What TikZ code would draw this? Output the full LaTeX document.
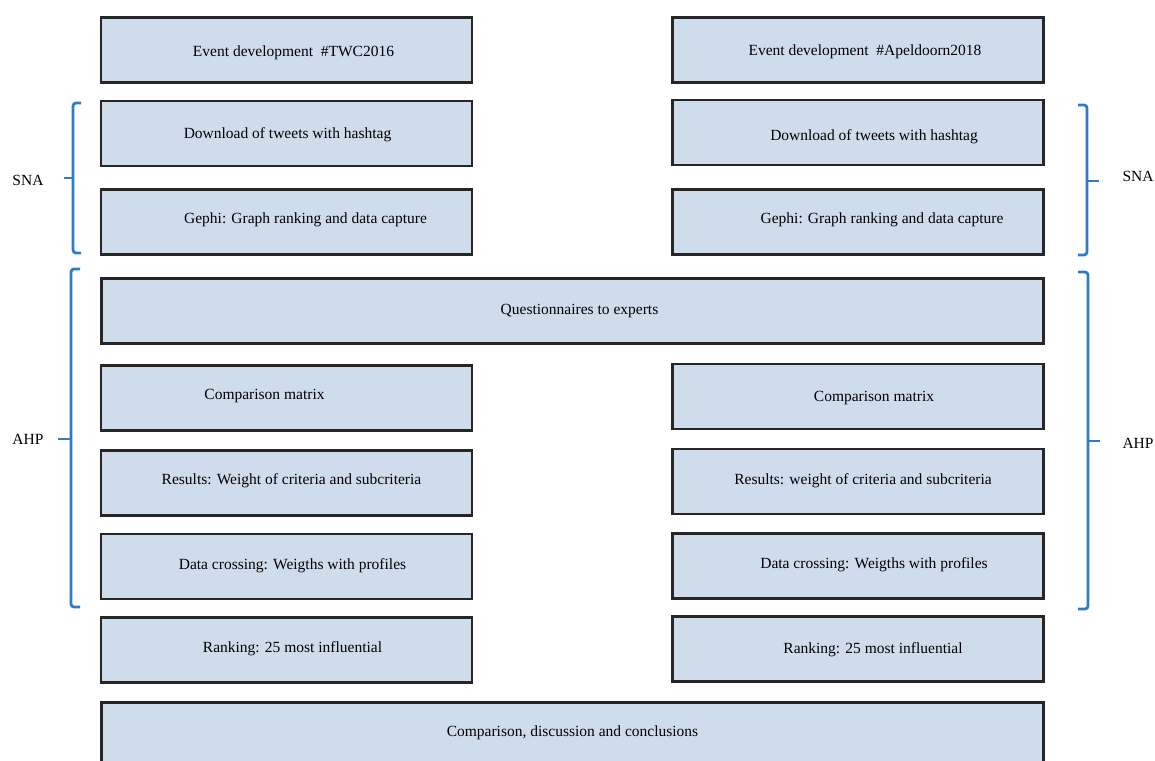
\documentclass[tikz,border=0pt]{standalone}
\usepackage{fontspec}
\setmainfont{Liberation Serif}
\definecolor{boxfill}{HTML}{CFDCEB}
\definecolor{boxline}{HTML}{262626}
\definecolor{brkblue}{HTML}{2F7CC6}
\begin{document}
\begin{tikzpicture}[x=1pt,y=-1pt,
  box/.style={draw=boxline,fill=boxfill,line width=2.1pt,rectangle,inner sep=0pt},
  half/.style={box,minimum width=371pt,minimum height=65pt},
  full/.style={box,minimum width=942pt,minimum height=65pt},
  txt/.style={font=\fontsize{15.5}{18}\selectfont,inner sep=0pt,text=black},
  brk/.style={draw=brkblue,line width=2.8pt,rounded corners=3pt},
  tick/.style={draw=brkblue,line width=2.8pt}]
\useasboundingbox (0,0) rectangle (1155,760);
% left column boxes
\node[half] (l1) at (286.5,50) {};
\node[half] (l2) at (286.5,133.5) {};
\node[half] (l3) at (286.5,222) {};
\node[full] (q)  at (572.5,311) {};
\node[half] (l5) at (286.5,398) {};
\node[half] (l6) at (286.5,483) {};
\node[half] (l7) at (286.5,566.5) {};
\node[half] (l8) at (286.5,650) {};
% right column boxes
\node[half] (r1) at (858,50) {};
\node[half] (r2) at (858,132.5) {};
\node[half] (r3) at (858,222) {};
\node[half] (r5) at (858,396.5) {};
\node[half] (r6) at (858,481.5) {};
\node[half] (r7) at (858,566) {};
\node[half] (r8) at (858,649) {};
\node[full] (c)  at (572.5,735) {};
% texts
\node[txt] at ([shift={(7,3)}]l1.center) {Event development\ \ \#TWC2016};
\node[txt] at ([shift={(1,1)}]l2.center) {Download of tweets with hashtag};
\node[txt] at ([shift={(19,-2)}]l3.center) {Gephi: Graph ranking and data capture};
\node[txt] at ([shift={(7,0)}]q.center) {Questionnaires to experts};
\node[txt] at ([shift={(-22,-2)}]l5.center) {Comparison matrix};
\node[txt] at ([shift={(5,-2)}]l6.center) {Results: Weight of criteria and subcriteria};
\node[txt] at ([shift={(6,-1)}]l7.center) {Data crossing: Weigths with profiles};
\node[txt] at ([shift={(6,-1)}]l8.center) {Ranking: 25 most influential};
\node[txt] at ([shift={(7,2)}]r1.center) {Event development\ \ \#Apeldoorn2018};
\node[txt] at ([shift={(16,4)}]r2.center) {Download of tweets with hashtag};
\node[txt] at ([shift={(24,-2)}]r3.center) {Gephi: Graph ranking and data capture};
\node[txt] at ([shift={(16,2)}]r5.center) {Comparison matrix};
\node[txt] at ([shift={(5,-1)}]r6.center) {Results: weight of criteria and subcriteria};
\node[txt] at ([shift={(16,-1)}]r7.center) {Data crossing: Weigths with profiles};
\node[txt] at ([shift={(15,1)}]r8.center) {Ranking: 25 most influential};
\node[txt] at ([shift={(0,-2)}]c.center) {Comparison, discussion and conclusions};
% bracket labels
\node[txt] (snaL) at (28,180) {SNA};
\node[txt] (ahpL) at (28,439) {AHP};
\node[txt] (snaR) at (1138,176) {SNA};
\node[txt] (ahpR) at (1138,443) {AHP};
% brackets
\draw[brk] (81,103) -- (73,103) -- (73,253) -- (81,253);
\draw[tick] (73,178) -- (64,178);
\draw[brk] (80,269) -- (71,269) -- (71,607) -- (80,607);
\draw[tick] (71,439) -- (58,439);
\draw[brk] (1078,105) -- (1087,105) -- (1087,255) -- (1078,255);
\draw[tick] (1087,181) -- (1099,181);
\draw[brk] (1078,272) -- (1088,272) -- (1088,609) -- (1078,609);
\draw[tick] (1088,441) -- (1100,441);
\end{tikzpicture}
\end{document}
